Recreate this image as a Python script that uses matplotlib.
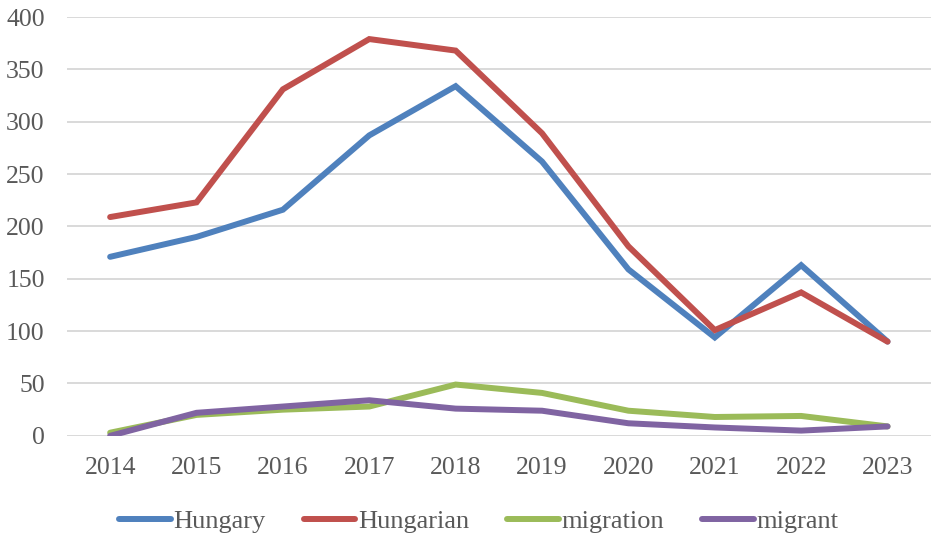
import matplotlib
matplotlib.use('Agg')
import matplotlib.pyplot as plt
import numpy as np

plt.rcParams['font.family'] = ['Liberation Serif', 'DejaVu Serif']

# ## Data
years = ['2014', '2015', '2016', '2017', '2018', '2019', '2020', '2021', '2022', '2023']
hungary = [171, 190, 216, 287, 334, 262, 159, 94, 163, 90]
hungarian = [209, 223, 331, 379, 368, 289, 181, 101, 137, 90]
migration = [3, 20, 25, 28, 49, 41, 24, 18, 19, 9]
migrant = [0, 22, 28, 34, 26, 24, 12, 8, 5, 9]

series = [('Hungary', hungary, '#4F81BD'),
          ('Hungarian', hungarian, '#C0504D'),
          ('migration', migration, '#9BBB59'),
          ('migrant', migrant, '#8064A2')]

fig = plt.figure(figsize=(9.43, 5.51), dpi=100)
ax = fig.add_axes([0.071, 0.209, 0.916, 0.760])

x = np.arange(len(years))
for name, vals, col in series:
    ax.plot(x, vals, color=col, linewidth=4.3, label=name, solid_capstyle='round', solid_joinstyle='miter')

ax.set_xlim(-0.5, len(years) - 0.5)
ax.set_ylim(0, 400)
ax.set_yticks(np.arange(0, 401, 50))
ax.set_xticks(x)
ax.set_xticklabels(years)
ax.grid(axis='y', color='#D9D9D9', linewidth=1.4)
ax.set_axisbelow(True)
for s in ax.spines.values():
    s.set_visible(False)
ax.tick_params(length=0, labelsize=18.5, colors='#595959')
ax.tick_params(axis='y', pad=16)
ax.tick_params(axis='x', pad=15.5)

leg = ax.legend(loc='center', bbox_to_anchor=(0.477, -0.205), ncol=4, frameon=False,
                fontsize=19, handlelength=1.95, handletextpad=0.1, columnspacing=1.45,
                borderaxespad=0)
for t in leg.get_texts():
    t.set_color('#595959')

plt.savefig('out.png', dpi=100)
